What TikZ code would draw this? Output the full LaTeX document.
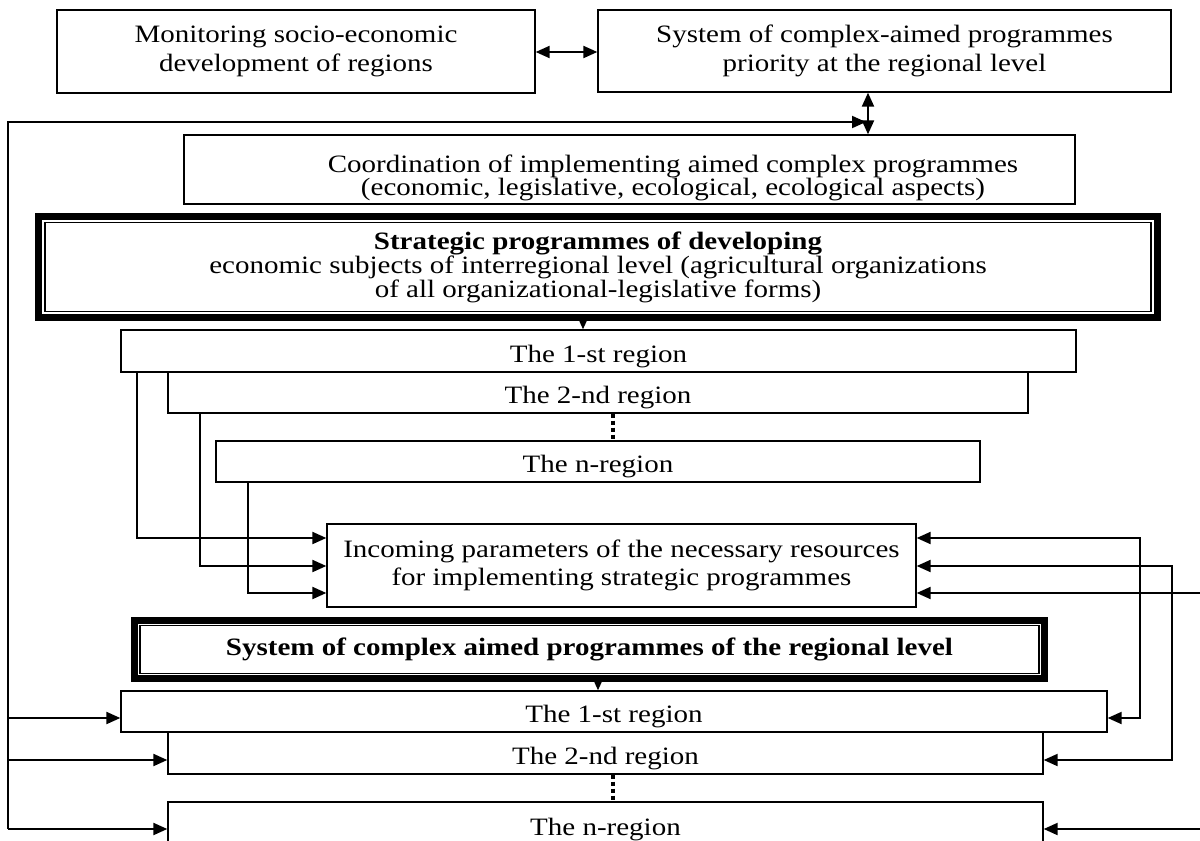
\documentclass[tikz,border=0pt]{standalone}
\usepackage{fontspec}
\setmainfont{Liberation Serif}[FakeStretch=1.16]
\usetikzlibrary{arrows.meta}

\tikzset{
  box/.style={draw, line width=1.3pt, inner sep=0pt, align=center,
    font=\fontsize{25}{29}\selectfont},
  regbox/.style={box, text height=27pt, text depth=5pt},
  framebox/.style={draw, line width=7pt, inner sep=0pt, align=center},
  conn/.style={line width=2pt, ->},
  dots/.style={line width=3.5pt, dash pattern=on 4pt off 3pt}
}

\begin{document}
\begin{tikzpicture}[x=1pt, y=-1pt, >={Triangle[length=14pt,width=12pt]}]
  \useasboundingbox (0,0) rectangle (1200,841);

  % Top blocks
  \node[box, minimum width=478, minimum height=83] (mon) at (296,51.5)
    {Monitoring socio-economic\\development of regions};
  \node[box, minimum width=573, minimum height=82] (prio) at (884.5,51)
    {System of complex-aimed programmes\\priority at the regional level};
  \node[box, minimum width=891, minimum height=69] (coord) at (629.5,169.5) {};
  \node[align=center, inner sep=0pt, font=\fontsize{25}{23}\selectfont] (coordtxt) at (673,178)
    {Coordination of implementing aimed complex programmes\\(economic, legislative, ecological, ecological aspects)};

  % Strategic programmes (double frame)
  \node[framebox, minimum width=1119, minimum height=101,
    font=\fontsize{25}{22}\selectfont] (strat) at (598,267)
    {\textbf{Strategic programmes of developing}\\
     economic subjects of interregional level (agricultural organizations\\
     of all organizational-legislative forms)};
  \draw[line width=1.2pt] ([xshift=10pt,yshift=-9.5pt]strat.north west)
    rectangle ([xshift=-10pt,yshift=9.5pt]strat.south east);

  % Regions of the strategic programmes
  \node[regbox, minimum width=955, minimum height=42] (r1t) at (598.5,351) {The 1-st region};
  \node[regbox, minimum width=860, minimum height=41] (r2t) at (598,392.5) {The 2-nd region};
  \node[regbox, minimum width=764, minimum height=41] (rnt) at (598,461.5) {The n-region};

  % Incoming parameters
  \node[box, minimum width=589, minimum height=83, font=\fontsize{25}{28}\selectfont] (inc) at (621.5,565.5)
    {Incoming parameters of the necessary resources\\for implementing strategic programmes};

  % System of the regional level (double frame)
  \node[framebox, minimum width=910, minimum height=58,
    font=\fontsize{25}{26}\selectfont\bfseries] (sysreg) at (589.5,649.5)
    {System of complex aimed programmes of the regional level};
  \draw[line width=1.2pt] ([xshift=9pt,yshift=-8.5pt]sysreg.north west)
    rectangle ([xshift=-9pt,yshift=8.5pt]sysreg.south east);

  % Regions of the regional level
  \node[regbox, minimum width=986, minimum height=41] (r1b) at (614,711.5) {The 1-st region};
  \node[regbox, minimum width=875, minimum height=42] (r2b) at (605.5,753) {The 2-nd region};
  \node[regbox, minimum width=875, minimum height=44] (rnb) at (605.5,824) {The n-region};

  % Links between the top blocks
  \draw[conn, <->] (mon.east |- 0,52) -- (prio.west |- 0,52);
  \draw[conn, <->] (prio.south -| 868,0) -- (coord.north -| 868,0);

  % Downward arrows out of the frames
  \draw[conn] (strat.south -| 583,0) -- (r1t.north -| 583,0);
  \draw[conn] (sysreg.south -| 598,0) -- (r1b.north -| 598,0);

  % Dotted continuation
  \draw[dots] (r2t.south -| 613,0) -- (rnt.north -| 613,0);
  \draw[dots] (r2b.south -| 613,0) -- (rnb.north -| 613,0);

  % Feedback bus on the left
  \coordinate (busTop) at (8,122);
  \coordinate (busEnd) at (866,122);
  \draw[conn] (busTop |- 0,829) -- (busTop) -- (busEnd);
  \foreach \n/\y in {r1b/718, r2b/760, rnb/829}
    \draw[conn] (busTop |- 0,\y) -- (\n.west |- 0,\y);

  % Regions into incoming parameters
  \foreach \n/\x/\y in {r1t/137/538, r2t/200/566, rnt/248/593}
    \draw[conn] (\n.south -| \x,0) |- (inc.west |- 0,\y);

  % Right side links
  \draw[conn, <->] (inc.east |- 0,538) -- ++(223,0) |- (r1b.east |- 0,718);
  \draw[conn, <->] (inc.east |- 0,566) -- ++(255,0) |- (r2b.east |- 0,760);
  \coordinate (rin1) at (1200,593);
  \coordinate (rin2) at (1200,829);
  \draw[conn] (rin1) -- (inc.east |- rin1);
  \draw[conn] (rin2) -- (rnb.east |- rin2);
\end{tikzpicture}
\end{document}
